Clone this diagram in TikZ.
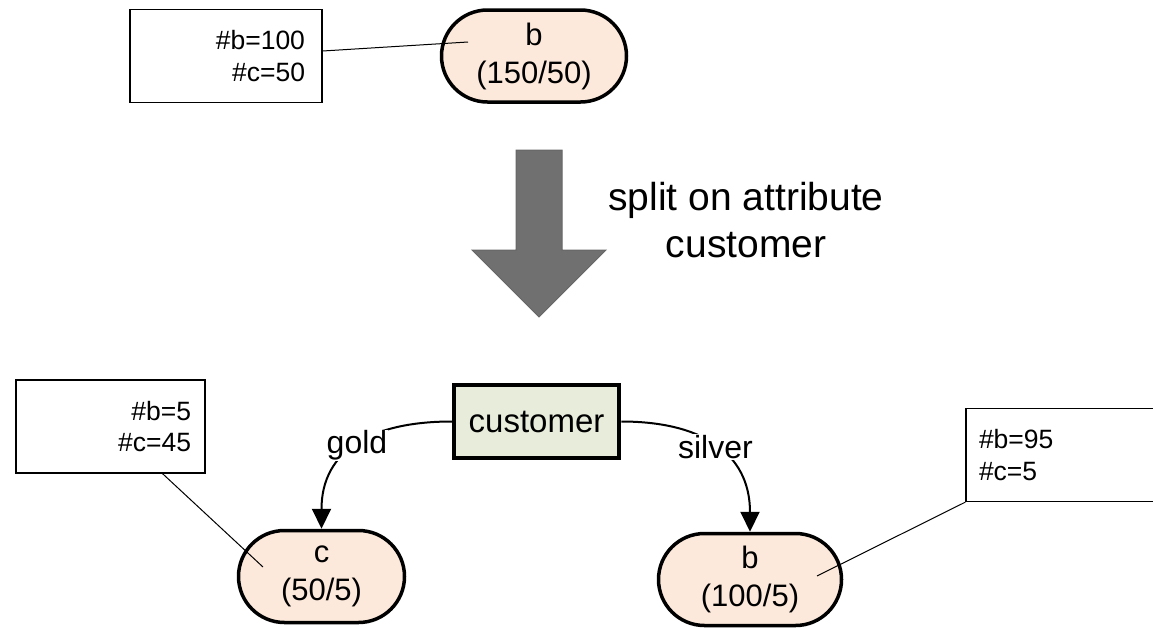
\documentclass[tikz,border=0pt]{standalone}
\usepackage{fontspec}
\setmainfont{Liberation Sans}
\usetikzlibrary{arrows.meta,shapes.misc}
\definecolor{leafpeach}{RGB}{252,233,219}
\definecolor{splitgreen}{RGB}{231,236,219}
\definecolor{bigarrow}{RGB}{112,112,112}

\begin{document}
\begin{tikzpicture}[x=1pt,y=-1pt,
  leaf/.style={draw, line width=3.5pt, fill=leafpeach, rounded rectangle,
    minimum height=92pt, inner sep=0pt, align=center,
    font=\fontsize{31}{38}\selectfont},
  note/.style={draw, line width=1.2pt, rectangle, minimum height=93pt,
    inner ysep=0pt, font=\fontsize{26.5}{31.5}\selectfont},
  edge/.style={line width=2pt, looseness=1.2, -{Triangle[length=20pt,width=19pt]}},
  lbl/.style={fill=white, inner sep=1pt, font=\fontsize{32}{38}\selectfont}]
\useasboundingbox (0,0) rectangle (1153,627);

% before the split
\node[leaf, minimum width=185pt] (root) at (534,56) {b\\(150/50)};
\node[note, text width=158pt, inner xsep=17pt, align=right] (noteroot) at (226,56) {\#b=100\\\#c=50};
\coordinate (pinroot) at (468,42);
\draw[line width=1pt] ([yshift=5pt]noteroot.east) -- (pinroot);

% big arrow
\draw[fill=bigarrow, draw=black!60, line width=1pt]
  (516,150) -- (562,150) -- (562,250) -- (606,250) -- (539,317)
  -- (472,250) -- (516,250) -- cycle;
\node[align=center, font=\fontsize{39}{47}\selectfont] (splittext) at (746,220)
  {split on attribute\\customer};

% after the split
\node[draw, line width=4.5pt, fill=splitgreen, minimum width=165pt, minimum height=73pt,
  font=\fontsize{33}{40}\selectfont] (cust) at (536.5,421.5) {customer};
\node[leaf, minimum width=166pt] (leftleaf) at (321.5,576.5) {c\\(50/5)};
\node[leaf, minimum width=183pt] (rightleaf) at (750,579.5) {b\\(100/5)};

\draw[edge] (cust.west) to[out=180, in=90] node[lbl] {gold} (leftleaf.north);
\draw[edge] (cust.east) to[out=0, in=90] node[lbl] {silver} (rightleaf.north);

\node[note, text width=161pt, inner xsep=14pt, align=right] (noteleft) at (110.5,426.5) {\#b=5\\\#c=45};
\node[note, text width=212pt, inner xsep=13pt, align=left] (noteright) at (1085,455) {\#b=95\\\#c=5};
\coordinate (pinleft) at (263,567);
\coordinate (pinright) at (817,576);
\draw[line width=1pt] ([xshift=52pt]noteleft.south) -- (pinleft);
\draw[line width=1pt] (noteright.south west) -- (pinright);

\end{tikzpicture}
\end{document}
